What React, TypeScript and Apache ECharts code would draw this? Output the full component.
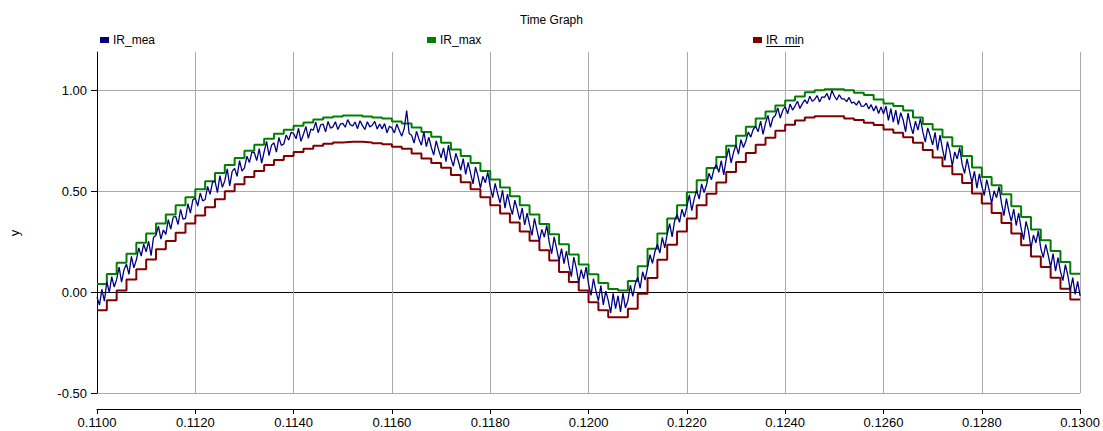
import React, { useEffect, useRef } from "react";
import * as echarts from "echarts";

// time axis
const T_START = 0.11;
const MAX_MIN_DT = 0.0002; // IR_max / IR_min sample step
const MEA_DT = 0.00005; // IR_mea sample step

const X_TICKS_INTERVAL = 0.002;
const Y_TICK_VALUES = [-0.5, 0, 0.5, 1.0];

const IR_MAX = [
  0.04, 0.09, 0.145, 0.19, 0.245, 0.29, 0.34, 0.385, 0.43, 0.47,
  0.51, 0.55, 0.59, 0.63, 0.665, 0.70, 0.73, 0.76, 0.785, 0.805,
  0.825, 0.84, 0.855, 0.865, 0.87, 0.875, 0.875, 0.87, 0.865, 0.86,
  0.845, 0.836, 0.816, 0.794, 0.77, 0.74, 0.707, 0.675, 0.64, 0.60,
  0.558, 0.518, 0.475, 0.43, 0.385, 0.337, 0.287, 0.237, 0.187, 0.137,
  0.088, 0.045, 0.015, 0.008, 0.055, 0.128, 0.215, 0.29, 0.365, 0.43,
  0.495, 0.555, 0.615, 0.67, 0.725, 0.775, 0.82, 0.86, 0.895, 0.925,
  0.95, 0.97, 0.99, 1.0, 1.005, 1.005, 1.0, 0.988, 0.977, 0.955,
  0.935, 0.922, 0.90, 0.866, 0.833, 0.806, 0.767, 0.723, 0.674, 0.618,
  0.571, 0.53, 0.485, 0.425, 0.372, 0.31, 0.257, 0.204, 0.149, 0.091,
  0.091,
];

const IR_MIN = [
  -0.09, -0.04, 0.008, 0.063, 0.113, 0.162, 0.212, 0.253, 0.294, 0.34,
  0.38, 0.42, 0.46, 0.50, 0.535, 0.57, 0.60, 0.63, 0.655, 0.675,
  0.695, 0.71, 0.725, 0.735, 0.742, 0.745, 0.745, 0.742, 0.738, 0.733,
  0.72, 0.71, 0.687, 0.662, 0.64, 0.616, 0.58, 0.545, 0.51, 0.47,
  0.43, 0.39, 0.345, 0.30, 0.255, 0.207, 0.157, 0.10, 0.05, 0.008,
  -0.05, -0.09, -0.124, -0.124, -0.083, -0.008, 0.07, 0.16, 0.235, 0.30,
  0.365, 0.43, 0.487, 0.543, 0.595, 0.645, 0.69, 0.73, 0.765, 0.80,
  0.83, 0.85, 0.865, 0.872, 0.872, 0.872, 0.861, 0.853, 0.839, 0.828,
  0.806, 0.79, 0.767, 0.74, 0.704, 0.667, 0.624, 0.584, 0.541, 0.489,
  0.439, 0.392, 0.343, 0.29, 0.232, 0.177, 0.124, 0.071, 0.017, -0.036,
  -0.036,
];

const IR_MEA = [
  -0.025, -0.064, 0.014, -0.045,
  0.051, -0.001, 0.077, 0.025,
  0.063, 0.124, 0.049, 0.111,
  0.139, 0.088, 0.177, 0.12,
  0.159, 0.219, 0.179, 0.238,
  0.2, 0.252, 0.181, 0.271,
  0.282, 0.327, 0.263, 0.308,
  0.286, 0.359, 0.312, 0.372,
  0.376, 0.335, 0.41, 0.362,
  0.366, 0.438, 0.392, 0.457,
  0.465, 0.426, 0.491, 0.452,
  0.459, 0.524, 0.485, 0.544,
  0.551, 0.493, 0.577, 0.519,
  0.552, 0.611, 0.526, 0.598,
  0.613, 0.574, 0.652, 0.6,
  0.616, 0.674, 0.642, 0.694,
  0.691, 0.652, 0.711, 0.639,
  0.695, 0.747, 0.676, 0.728,
  0.74, 0.694, 0.766, 0.727,
  0.734, 0.779, 0.753, 0.792,
  0.786, 0.76, 0.812, 0.747,
  0.782, 0.821, 0.762, 0.808,
  0.803, 0.842, 0.79, 0.829,
  0.833, 0.794, 0.846, 0.813,
  0.819, 0.844, 0.806, 0.832,
  0.836, 0.817, 0.855, 0.83,
  0.823, 0.843, 0.81, 0.849,
  0.825, 0.806, 0.844, 0.819,
  0.827, 0.846, 0.808, 0.833,
  0.809, 0.835, 0.79, 0.822,
  0.814, 0.789, 0.833, 0.801,
  0.773, 0.811, 0.9, 0.786,
  0.777, 0.739, 0.797, 0.758,
  0.728, 0.794, 0.721, 0.768,
  0.718, 0.679, 0.75, 0.705,
  0.666, 0.715, 0.647, 0.728,
  0.663, 0.624, 0.688, 0.65,
  0.604, 0.662, 0.584, 0.643,
  0.588, 0.536, 0.62, 0.575,
  0.516, 0.574, 0.542, 0.594,
  0.52, 0.468, 0.539, 0.488,
  0.441, 0.505, 0.416, 0.486,
  0.43, 0.384, 0.456, 0.41,
  0.359, 0.417, 0.333, 0.391,
  0.333, 0.281, 0.366, 0.307,
  0.253, 0.311, 0.272, 0.331,
  0.248, 0.19, 0.274, 0.216,
  0.155, 0.216, 0.141, 0.203,
  0.132, 0.077, 0.173, 0.119,
  0.047, 0.111, 0.066, 0.124,
  0.04, -0.016, 0.067, 0.005,
  -0.043, 0.032, -0.063, 0.005,
  -0.041, -0.103, -0.006, -0.082,
  -0.018, -0.098, -0.005, -0.078,
  -0.042, 0.034, -0.021, 0.041,
  0.074, 0.019, 0.101, 0.06,
  0.121, 0.186, 0.143, 0.2,
  0.238, 0.193, 0.271, 0.219,
  0.287, 0.339, 0.274, 0.352,
  0.385, 0.346, 0.411, 0.372,
  0.424, 0.482, 0.404, 0.463,
  0.505, 0.461, 0.536, 0.493,
  0.532, 0.589, 0.557, 0.609,
  0.632, 0.594, 0.651, 0.581,
  0.66, 0.712, 0.641, 0.693,
  0.73, 0.684, 0.756, 0.717,
  0.749, 0.794, 0.768, 0.807,
  0.821, 0.795, 0.847, 0.782,
  0.837, 0.876, 0.817, 0.863,
  0.875, 0.913, 0.863, 0.9,
  0.92, 0.884, 0.932, 0.902,
  0.922, 0.946, 0.91, 0.934,
  0.953, 0.934, 0.971, 0.946,
  0.955, 0.974, 0.942, 0.968,
  0.965, 0.985, 0.952, 1.0,
  0.972, 0.952, 0.978, 0.958,
  0.958, 0.944, 0.965, 0.937,
  0.941, 0.927, 0.948, 0.921,
  0.922, 0.936, 0.908, 0.929,
  0.898, 0.923, 0.885, 0.917,
  0.883, 0.922, 0.851, 0.909,
  0.843, 0.902, 0.83, 0.889,
  0.853, 0.794, 0.887, 0.827,
  0.784, 0.847, 0.803, 0.86,
  0.794, 0.743, 0.814, 0.775,
  0.73, 0.792, 0.702, 0.778,
  0.71, 0.653, 0.746, 0.696,
  0.626, 0.695, 0.66, 0.716,
  0.634, 0.588, 0.661, 0.601,
  0.541, 0.599, 0.515, 0.586,
  0.525, 0.479, 0.558, 0.505,
  0.44, 0.502, 0.468, 0.523,
  0.442, 0.379, 0.464, 0.4,
  0.351, 0.412, 0.33, 0.391,
  0.316, 0.26, 0.351, 0.302,
  0.217, 0.283, 0.244, 0.303,
  0.217, 0.171, 0.237, 0.184,
  0.124, 0.191, 0.104, 0.171,
  0.103, 0.057, 0.136, 0.083,
  0.008, 0.072, -0.011, 0.053,
  -0.02,
];

const FONT = "'Liberation Sans', Arial, sans-serif";
const GRID_GRAY = "#a9a9a9";

function toSeries(values: number[], dt: number) {
  return values.map((v, i) => [+(T_START + i * dt).toFixed(6), v]);
}

export default function App() {
  const ref = useRef<HTMLDivElement>(null);

  useEffect(() => {
    document.body.style.margin = "0";
    const chart = echarts.init(ref.current!, null, { renderer: "svg" });
    const legendBase = {
      orient: "horizontal",
      top: 34,
      padding: 0,
      icon: "rect",
      itemWidth: 9,
      itemHeight: 6,
      itemGap: 10,
      textStyle: { fontFamily: FONT, fontSize: 12, color: "#000", padding: [0, 0, 0, -1] },
      selectedMode: false,
    };
    chart.setOption({
      animation: false,
      backgroundColor: "#fff",
      title: {
        text: "Time Graph",
        left: "center",
        top: 9,
        textStyle: { fontFamily: FONT, fontSize: 12, fontWeight: "normal", color: "#000" },
      },
      legend: [
        { ...legendBase, left: 100, data: ["IR_mea"] },
        { ...legendBase, left: 427, data: ["IR_max"] },
        { ...legendBase, left: 753, data: ["IR_min"] },
      ],
      grid: { left: 97, right: 22, top: 52, bottom: 38, containLabel: false },
      xAxis: {
        type: "value",
        min: 0.11,
        max: 0.13,
        interval: X_TICKS_INTERVAL,
        offset: 16,
        axisLine: { onZero: false, lineStyle: { color: "#000", width: 1 } },
        axisTick: { show: true, length: 5, lineStyle: { color: "#000" } },
        axisLabel: {
          fontFamily: FONT,
          fontSize: 13,
          color: "#000",
          margin: 7,
          formatter: (v: number) => v.toFixed(4),
        },
        splitLine: { show: true, lineStyle: { color: GRID_GRAY, width: 1 } },
      },
      yAxis: {
        type: "value",
        min: -0.5,
        max: 1.19,
        axisLine: { show: true, lineStyle: { color: "#000", width: 1 } },
        axisTick: { show: true, length: 6, customValues: Y_TICK_VALUES, lineStyle: { color: "#000" } },
        axisLabel: {
          fontFamily: FONT,
          fontSize: 13,
          color: "#000",
          margin: 10,
          customValues: Y_TICK_VALUES,
          formatter: (v: number) => v.toFixed(2),
        },
        splitLine: {
          show: true,
          lineStyle: { color: [GRID_GRAY, "#000", GRID_GRAY, GRID_GRAY], width: 1 },
        },
      },
      graphic: [
        {
          type: "text",
          x: 14,
          y: 233,
          rotation: Math.PI / 2,
          style: {
            text: "y",
            fontFamily: FONT,
            fontSize: 13,
            fill: "#000",
            textAlign: "center",
            textVerticalAlign: "middle",
          },
        },
        {
          type: "line",
          shape: { x1: 766, y1: 46.5, x2: 800, y2: 46.5 },
          style: { stroke: "#000", lineWidth: 1 },
        },
      ],
      series: [
        {
          name: "IR_mea",
          type: "line",
          data: toSeries(IR_MEA, MEA_DT),
          showSymbol: false,
          symbol: "none",
          lineStyle: { color: "#000080", width: 1.3 },
          itemStyle: { color: "#000080" },
          z: 4,
        },
        {
          name: "IR_max",
          type: "line",
          step: "end",
          data: toSeries(IR_MAX, MAX_MIN_DT),
          showSymbol: false,
          symbol: "none",
          lineStyle: { color: "#008000", width: 2 },
          itemStyle: { color: "#008000" },
          z: 3,
        },
        {
          name: "IR_min",
          type: "line",
          step: "end",
          data: toSeries(IR_MIN, MAX_MIN_DT),
          showSymbol: false,
          symbol: "none",
          lineStyle: { color: "#800000", width: 2 },
          itemStyle: { color: "#800000" },
          z: 3,
        },
      ],
    });
    return () => chart.dispose();
  }, []);

  return <div ref={ref} style={{ width: 1103, height: 431 }} />;
}
